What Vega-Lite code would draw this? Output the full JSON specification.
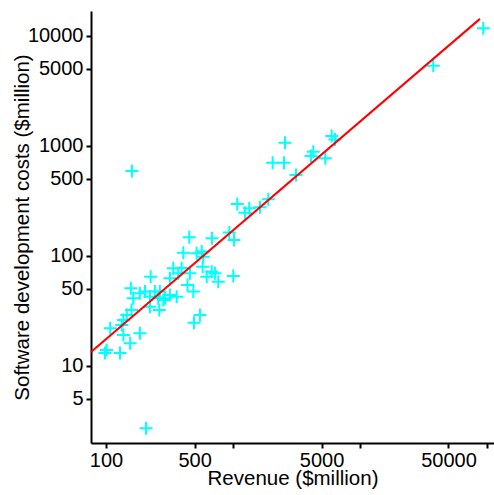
{
  "$schema": "https://vega.github.io/schema/vega-lite/v6.json",
  "width": 403,
  "height": 432,
  "autosize": {"type": "none"},
  "padding": {"left": 91, "top": 11, "right": 0, "bottom": 52},
  "background": "white",
  "config": {
    "view": {"stroke": null},
    "font": "Liberation Sans",
    "axis": {
      "grid": false,
      "domainColor": "black",
      "domainWidth": 2,
      "tickColor": "black",
      "tickWidth": 2,
      "tickSize": 5,
      "labelFont": "Liberation Sans",
      "labelFontSize": 20,
      "labelColor": "black",
      "titleFont": "Liberation Sans",
      "titleFontSize": 20.5,
      "titleFontWeight": "normal",
      "titleColor": "black"
    }
  },
  "datasets": {
    "points": [
      {"revenue": 93980, "cost": 11670},
      {"revenue": 37950, "cost": 5335},
      {"revenue": 6005, "cost": 1225},
      {"revenue": 6377, "cost": 1139},
      {"revenue": 2574, "cost": 1065},
      {"revenue": 4301, "cost": 882},
      {"revenue": 4124, "cost": 806},
      {"revenue": 5347, "cost": 768},
      {"revenue": 2058, "cost": 701},
      {"revenue": 2527, "cost": 701},
      {"revenue": 3143, "cost": 541},
      {"revenue": 1083, "cost": 295},
      {"revenue": 1346, "cost": 270},
      {"revenue": 1245, "cost": 246},
      {"revenue": 1635, "cost": 275},
      {"revenue": 1901, "cost": 326},
      {"revenue": 937, "cost": 162},
      {"revenue": 1020, "cost": 139},
      {"revenue": 453, "cost": 147},
      {"revenue": 684, "cost": 144},
      {"revenue": 407, "cost": 106.5},
      {"revenue": 518, "cost": 105},
      {"revenue": 568, "cost": 109},
      {"revenue": 584, "cost": 98},
      {"revenue": 395, "cost": 77.3},
      {"revenue": 459, "cost": 69.2},
      {"revenue": 578, "cost": 79.4},
      {"revenue": 681, "cost": 71.5},
      {"revenue": 622, "cost": 64.4},
      {"revenue": 722, "cost": 69.2},
      {"revenue": 767, "cost": 58},
      {"revenue": 1007, "cost": 65.4},
      {"revenue": 439, "cost": 54.2},
      {"revenue": 488, "cost": 47.1},
      {"revenue": 339, "cost": 76.8},
      {"revenue": 371, "cost": 69.2},
      {"revenue": 319, "cost": 62.3},
      {"revenue": 225, "cost": 64.4},
      {"revenue": 157, "cost": 50.5},
      {"revenue": 185, "cost": 45.5},
      {"revenue": 203, "cost": 47.1},
      {"revenue": 164, "cost": 41},
      {"revenue": 222, "cost": 42.4},
      {"revenue": 243, "cost": 47.1},
      {"revenue": 266, "cost": 47.1},
      {"revenue": 258, "cost": 41},
      {"revenue": 292, "cost": 41},
      {"revenue": 319, "cost": 43.9},
      {"revenue": 361, "cost": 42.4},
      {"revenue": 222, "cost": 34.4},
      {"revenue": 263, "cost": 32.1},
      {"revenue": 283, "cost": 39.6},
      {"revenue": 159, "cost": 32.1},
      {"revenue": 146, "cost": 28.9},
      {"revenue": 137, "cost": 26},
      {"revenue": 133, "cost": 23.4},
      {"revenue": 108, "cost": 21.9},
      {"revenue": 137, "cost": 19},
      {"revenue": 185, "cost": 19.7},
      {"revenue": 155, "cost": 16},
      {"revenue": 101, "cost": 13.9},
      {"revenue": 98, "cost": 13},
      {"revenue": 129, "cost": 13},
      {"revenue": 550, "cost": 28.9},
      {"revenue": 494, "cost": 24.6},
      {"revenue": 207, "cost": 2.7},
      {"revenue": 160, "cost": 589}
    ],
    "fit": [
      {"revenue": 76.2, "cost": 13.3},
      {"revenue": 88500, "cost": 14220}
    ]
  },
  "layer": [
    {
      "data": {"name": "points"},
      "mark": {
        "type": "point",
        "shape": "M-1,0L1,0M0,-1L0,1",
        "size": 169,
        "filled": false,
        "stroke": "#00FFFF",
        "strokeWidth": 2,
        "opacity": 1
      },
      "encoding": {
        "x": {
          "field": "revenue",
          "type": "quantitative",
          "scale": {"type": "log", "domain": [76.2, 114200], "nice": false, "zero": false},
          "axis": {
            "title": "Revenue ($million)",
            "values": [100, 500, 1000, 5000, 10000, 50000, 100000],
            "format": "d",
            "labelExpr": "(datum.value == 1000 || datum.value == 10000 || datum.value == 100000) ? '' : datum.label",
            "labelPadding": 2,
            "titlePadding": -2,
            "labelFlush": false,
            "labelOverlap": false
          }
        },
        "y": {
          "field": "cost",
          "type": "quantitative",
          "scale": {"type": "log", "domain": [1.98, 16770], "nice": false, "zero": false},
          "axis": {
            "title": "Software development costs ($million)",
            "values": [5, 10, 50, 100, 500, 1000, 5000, 10000],
            "format": "d",
            "labelPadding": 3,
            "titleX": -69,
            "titleBaseline": "middle",
            "labelFlush": false,
            "labelOverlap": false
          }
        }
      }
    },
    {
      "data": {"name": "fit"},
      "mark": {"type": "line", "color": "#FF0000", "strokeWidth": 2},
      "encoding": {
        "x": {"field": "revenue", "type": "quantitative"},
        "y": {"field": "cost", "type": "quantitative"}
      }
    }
  ]
}
